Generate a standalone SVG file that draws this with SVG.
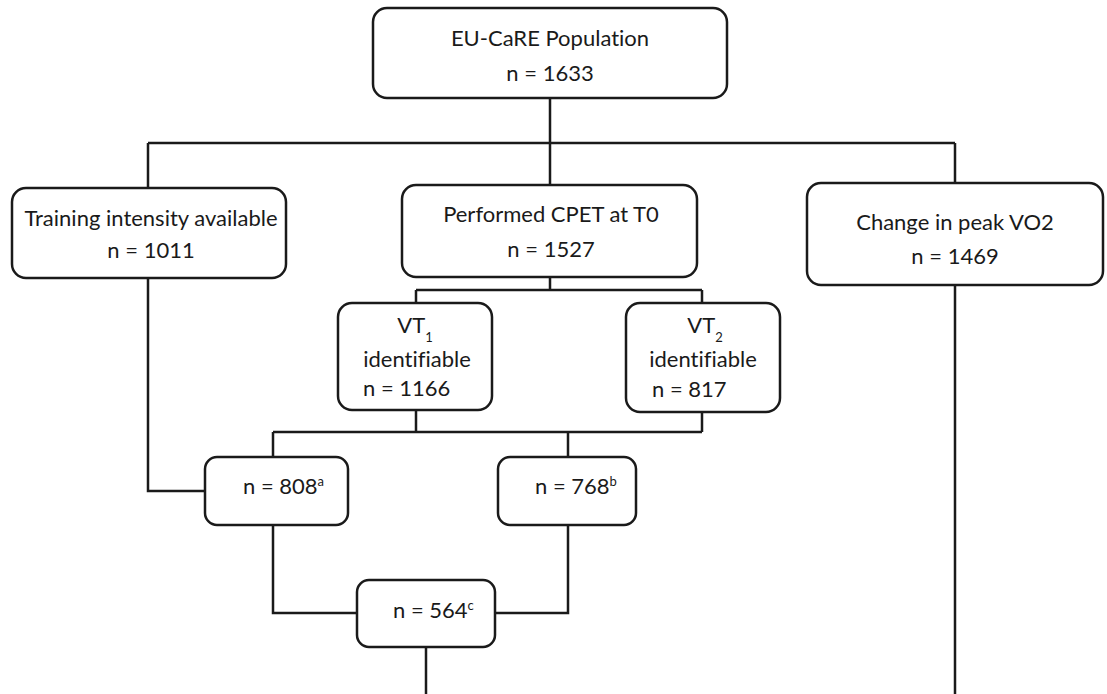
<svg xmlns="http://www.w3.org/2000/svg" width="1107" height="694" viewBox="0 0 1107 694">
<style>
.box{fill:#fff;stroke:#1a1a1a;stroke-width:2.5}
.ln{fill:none;stroke:#1a1a1a;stroke-width:2.5}
text{font-family:Lato,"Open Sans","Liberation Sans",sans-serif;font-size:22px;fill:#1a1a1a;font-variant-ligatures:none}
.c{text-anchor:middle}
.sup{font-size:13px}
</style>
<rect width="1107" height="694" fill="#fff"/>
<g id="connectors">
<path class="ln" d="M550 98V143M148 143H955M148 143V188M550 143V185M955 143V183"/>
<path class="ln" d="M550 277V290M416 290H702M416 290V303M702 290V303"/>
<path class="ln" d="M416 410V432M702 412V432M273 432H702M273 432V457M568 432V457"/>
<path class="ln" d="M148 278V491H205"/>
<path class="ln" d="M955 285V694"/>
<path class="ln" d="M273 525V613H357M568 525V613H495"/>
<path class="ln" d="M426 647V694"/>
</g>
<g id="n-population">
<rect class="box" x="373" y="8" width="354" height="90" rx="14"/>
<text class="c" x="550" y="46">EU-CaRE Population</text>
<text class="c" x="550" y="81">n = 1633</text>
</g>
<g id="n-training">
<rect class="box" x="12" y="188" width="274" height="90" rx="14"/>
<text class="c" x="151" y="226">Training intensity available</text>
<text class="c" x="151" y="258">n = 1011</text>
</g>
<g id="n-cpet">
<rect class="box" x="402" y="185" width="295" height="92" rx="14"/>
<text class="c" x="551" y="222">Performed CPET at T0</text>
<text class="c" x="551" y="257">n = 1527</text>
</g>
<g id="n-vo2">
<rect class="box" x="807" y="183" width="296" height="102" rx="14"/>
<text class="c" x="955" y="230">Change in peak VO2</text>
<text class="c" x="955" y="264">n = 1469</text>
</g>
<g id="n-vt1">
<rect class="box" x="338" y="303" width="154" height="107" rx="14"/>
<text class="c" x="415" y="333">VT<tspan class="sup" dy="9">1</tspan></text>
<text class="c" x="417" y="367">identifiable</text>
<text x="363" y="396">n = 1166</text>
</g>
<g id="n-vt2">
<rect class="box" x="626" y="303" width="154" height="109" rx="14"/>
<text class="c" x="705" y="333">VT<tspan class="sup" dy="9">2</tspan></text>
<text class="c" x="703" y="367">identifiable</text>
<text x="652" y="397">n = 817</text>
</g>
<g id="n-808">
<rect class="box" x="205" y="457" width="143" height="68" rx="12"/>
<text x="243" y="494">n = 808<tspan class="sup" dy="-8">a</tspan></text>
</g>
<g id="n-768">
<rect class="box" x="498" y="457" width="138" height="68" rx="12"/>
<text x="535" y="494">n = 768<tspan class="sup" dy="-8">b</tspan></text>
</g>
<g id="n-564">
<rect class="box" x="357" y="580" width="138" height="67" rx="12"/>
<text x="393" y="618">n = 564<tspan class="sup" dy="-8">c</tspan></text>
</g>
</svg>
